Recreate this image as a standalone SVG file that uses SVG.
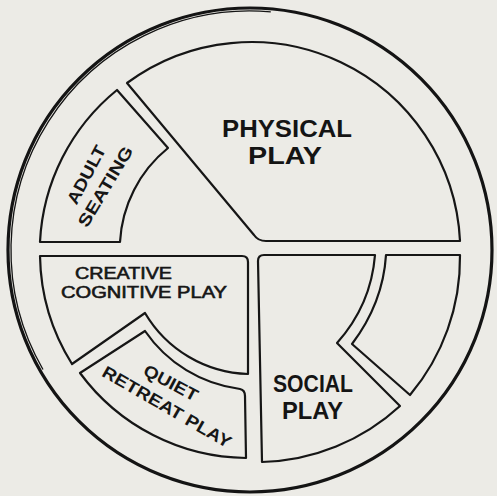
<svg xmlns="http://www.w3.org/2000/svg" width="497" height="496" viewBox="0 0 497 496">
<style>
.zone{fill:none;stroke:#161616;stroke-width:2.2;stroke-linejoin:round}
.ring{fill:none;stroke:#141414}
.big{font-family:"Liberation Sans",Arial,sans-serif;font-weight:bold;font-size:24px;fill:#141414;text-anchor:middle}
.mid{font-family:"Liberation Sans",Arial,sans-serif;font-weight:bold;font-size:17px;fill:#161616;text-anchor:middle}
.reg{font-family:"Liberation Sans",Arial,sans-serif;font-size:16px;fill:#161616;stroke:#161616;stroke-width:0.6}
</style>
<rect width="497" height="496" fill="#ecebe6"/>
<g id="outer-ring">
<circle class="ring" cx="250" cy="250" r="242" stroke-width="3.2"/>
<path class="ring" stroke-width="1.3" d="M 43,369.5 A 239 239 0 0 1 270.8,11.9"/>
</g>
<g id="physical-play">
<path class="zone" d="M 127,83 A 209 209 0 0 1 460,241 L 266,241 Q 258,241 254,235 Z"/>
<text class="big" x="287" y="137" textLength="130" lengthAdjust="spacingAndGlyphs">PHYSICAL</text>
<text class="big" x="285" y="164" textLength="74" lengthAdjust="spacingAndGlyphs">PLAY</text>
</g>
<g id="adult-seating">
<path class="zone" d="M 117,90 L 168,148 A 130 130 0 0 0 120,242 L 40,242 A 209 209 0 0 1 117,90 Z"/>
<text class="mid" transform="translate(91.5,177.5) rotate(-62)" textLength="64" lengthAdjust="spacingAndGlyphs">ADULT</text>
<text class="mid" transform="translate(110.5,189.5) rotate(-59)" textLength="91" lengthAdjust="spacingAndGlyphs">SEATING</text>
</g>
<g id="creative-cognitive-play">
<path class="zone" d="M 40,256 L 242,256 Q 248,256 248,262 L 248,374 A 124 124 0 0 1 145,313 L 72,364 A 210 210 0 0 1 40,256 Z"/>
<text class="reg" x="75" y="279" textLength="97" lengthAdjust="spacingAndGlyphs">CREATIVE</text>
<text class="reg" x="61" y="297.5" textLength="166" lengthAdjust="spacingAndGlyphs">COGNITIVE PLAY</text>
</g>
<g id="quiet-retreat-play">
<path class="zone" d="M 80,373 L 145,331 A 136 136 0 0 0 240,389 Q 245,390 245,396 L 246,458 A 209 209 0 0 1 80,373 Z"/>
<text class="mid" transform="translate(168,388) rotate(28)" textLength="59" lengthAdjust="spacingAndGlyphs">QUIET</text>
<text class="mid" transform="translate(164,412) rotate(30)" textLength="146" lengthAdjust="spacingAndGlyphs">RETREAT PLAY</text>
</g>
<g id="social-play">
<path class="zone" d="M 264,255 L 375,255 Q 371,305 337,343 L 400,406 A 212 212 0 0 1 262,462 L 258,261 Q 258,255 264,255 Z"/>
<text class="big" x="313" y="392" textLength="80" lengthAdjust="spacingAndGlyphs">SOCIAL</text>
<text class="big" x="312.5" y="419" textLength="61" lengthAdjust="spacingAndGlyphs">PLAY</text>
</g>
<g id="side-strip">
<path class="zone" d="M 386,255 L 460,255 A 213 213 0 0 1 410,395 L 352,344 Q 383,303 386,255 Z"/>
</g>
<g id="connectors"></g>
</svg>
